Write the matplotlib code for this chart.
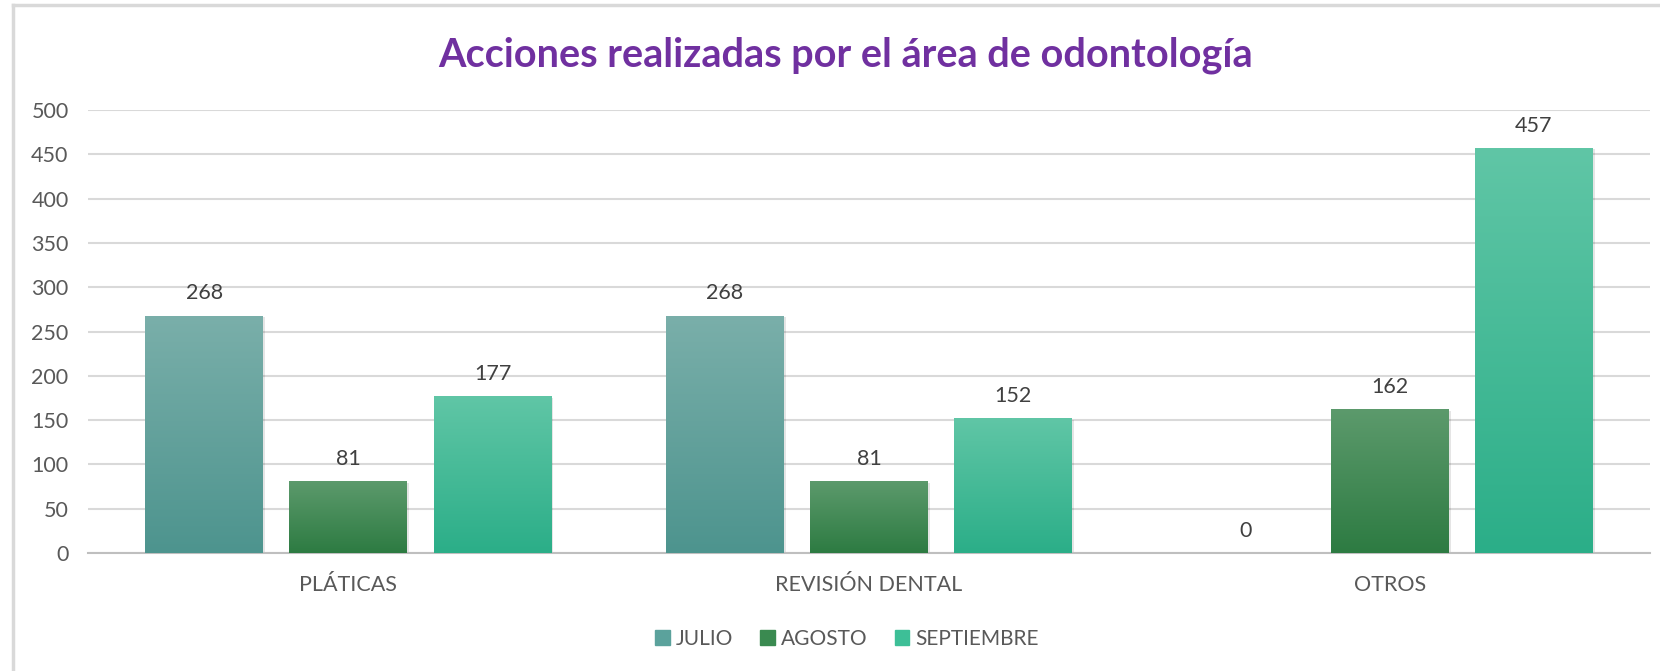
import numpy as np
import matplotlib
matplotlib.use("Agg")
import matplotlib.pyplot as plt
from matplotlib.patches import Rectangle
from matplotlib.lines import Line2D
from matplotlib.colors import LinearSegmentedColormap

categories = ["PLÁTICAS", "REVISIÓN DENTAL", "OTROS"]
series_names = ["JULIO", "AGOSTO", "SEPTIEMBRE"]
julio = [268, 268, 0]
agosto = [81, 81, 162]
septiembre = [177, 152, 457]
yticks = [0, 50, 100, 150, 200, 250, 300, 350, 400, 450, 500]
title = "Acciones realizadas por el área de odontología"

values = [julio, agosto, septiembre]
grad_top = ["#7AAFAA", "#5C9A6C", "#60C6A6"]
grad_bot = ["#4D948E", "#2D7B42", "#2BAE88"]
legend_col = ["#5BA29C", "#3A8A50", "#3DBF97"]

plt.rcParams['font.family'] = ['Lato', 'DejaVu Sans']
fig = plt.figure(figsize=(16.6, 6.71), dpi=100)
ax = fig.add_axes([88/1660, 1-553/671, (1650-88)/1660, (553-110)/671])

x = np.arange(len(categories))
width = 0.226
step = 0.277
txt = "#404040"
tick_col = "#595959"

for i, (vals, name) in enumerate(zip(values, series_names)):
    bars = ax.bar(x + (i-1)*step, vals, width, color=legend_col[i], label=name, zorder=3)
    cmap = LinearSegmentedColormap.from_list("g%d" % i, [grad_bot[i], grad_top[i]])
    grad = np.linspace(0, 1, 256).reshape(-1, 1)
    for b, v in zip(bars, vals):
        if v > 0:
            sh = Rectangle((b.get_x()+0.004, 0), b.get_width(), v-1.5, color="#000000",
                           alpha=0.10, zorder=2, lw=0)
            ax.add_patch(sh)
            im = ax.imshow(grad, extent=[b.get_x(), b.get_x()+b.get_width(), 0, v],
                           origin="lower", aspect="auto", cmap=cmap, zorder=3.5)
            im.set_clip_path(b)
        ax.text(b.get_x()+b.get_width()/2, v + 14, f"{v}", ha="center", va="bottom",
                fontsize=15.5, color=txt, zorder=5)

ax.set_xlim(-0.5, 2.5)
ax.set_ylim(0, 500)
ax.set_yticks(yticks)
ax.set_xticks(x)
ax.set_xticklabels(categories)
ax.tick_params(axis="both", length=0, labelsize=15.5, colors=tick_col)
ax.tick_params(axis="x", pad=16)
ax.tick_params(axis="y", pad=14)
ax.grid(axis="y", color="#D9D9D9", linewidth=1.5, zorder=0)
for s in ["top", "right", "left"]:
    ax.spines[s].set_visible(False)
ax.spines["bottom"].set_color("#BFBFBF")
ax.spines["bottom"].set_linewidth(1.5)
ax.set_axisbelow(True)

fig.text(0.5 + 16/1660, 1-55/671, title, ha="center", va="center", fontsize=28.5,
         fontweight="bold", color="#7030A0")

handles = [Rectangle((0, 0), 1, 1, color=c) for c in legend_col]
leg = fig.legend(handles, series_names, loc="center", bbox_to_anchor=(847/1660, 1-639/671),
                 ncol=3, frameon=False, fontsize=15, handlelength=0.7, handleheight=0.7,
                 columnspacing=1.3, handletextpad=0.3)
for t in leg.get_texts():
    t.set_color(tick_col)

# chart border (top and left only visible)
fig.add_artist(Line2D([13/1660, 1], [1-5/671, 1-5/671], transform=fig.transFigure,
                      color="#D9D9D9", linewidth=2.5))
fig.add_artist(Line2D([13/1660, 13/1660], [0, 1-5/671], transform=fig.transFigure,
                      color="#D9D9D9", linewidth=2.5))

fig.savefig("out.png", dpi=100, facecolor="white")
